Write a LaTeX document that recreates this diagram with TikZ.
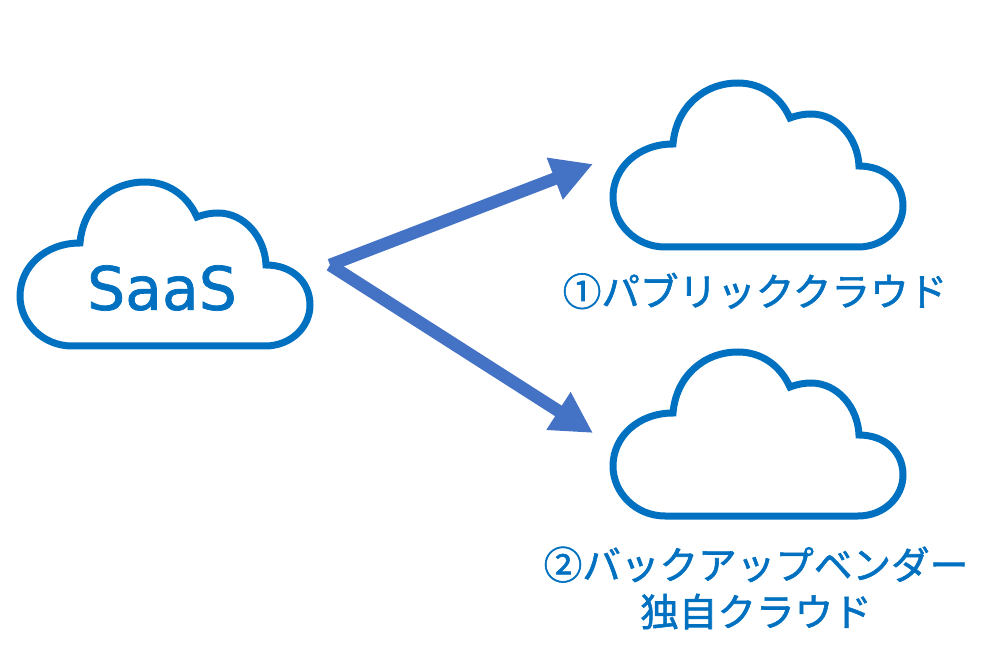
\documentclass[tikz,border=0pt]{standalone}
\usepackage{fontspec}
\setmainfont{Noto Sans CJK JP}[FakeBold=1.5]
\newfontfamily\latinfont{DejaVu Sans}[FakeBold=1.2]
\usepackage{xcolor}
\usetikzlibrary{arrows.meta, positioning}
\definecolor{cCloud}{RGB}{0,112,192}
\definecolor{cArrow}{RGB}{68,114,196}
\tikzset{
	cloudline/.style={draw=cCloud, line width=7pt, line join=miter, fill=white},
	flowarrow/.style={-{Triangle[length=41pt, width=42pt]}, line width=12.5pt, cArrow},
	cloudlabel/.style={text=cCloud, font=\fontsize{38.6}{47}\selectfont, align=center, inner sep=0pt},
	saaslabel/.style={text=cCloud, font=\latinfont\fontsize{60}{60}\selectfont, inner sep=0pt},
	pics/cloudicon/.style={code={
		\draw[cloudline] (72,346) .. controls (43,346) and (20,323) .. (20,296)
			.. controls (20,267) and (45,243) .. (80,243)
			.. controls (83,207) and (110,182) .. (145,182)
			.. controls (168,182) and (187,195) .. (197,217)
			.. controls (205,214) and (212,213) .. (218,213)
			.. controls (245,213) and (265,238) .. (266,265)
			.. controls (291,265) and (310,281) .. (310,305)
			.. controls (310,327) and (291,346) .. (265,346) -- cycle;
		\coordinate (-inlet) at (0,263);
		\coordinate (-outlet) at (330,265);
	}},
}
\begin{document}
\begin{tikzpicture}[x=1pt, y=-1pt]
	\useasboundingbox (0,0) rectangle (1005,660);
	% one source cloud, two target clouds
	\pic (saas) at (0,0) {cloudicon};
	\pic (public) at (593,-99) {cloudicon};
	\pic (vendor) at (593,170) {cloudicon};
	\node[saaslabel] (saaslbl) at (162,288) {SaaS};
	\node[cloudlabel] (publiclbl) at (755,291) {①パブリッククラウド};
	\node[cloudlabel] (vendorlbl) at (756,588) {②バックアップベンダー\\独自クラウド};
	\draw[flowarrow] (saas-outlet) -- (public-inlet);
	\draw[flowarrow] (saas-outlet) -- (vendor-inlet);
\end{tikzpicture}
\end{document}
